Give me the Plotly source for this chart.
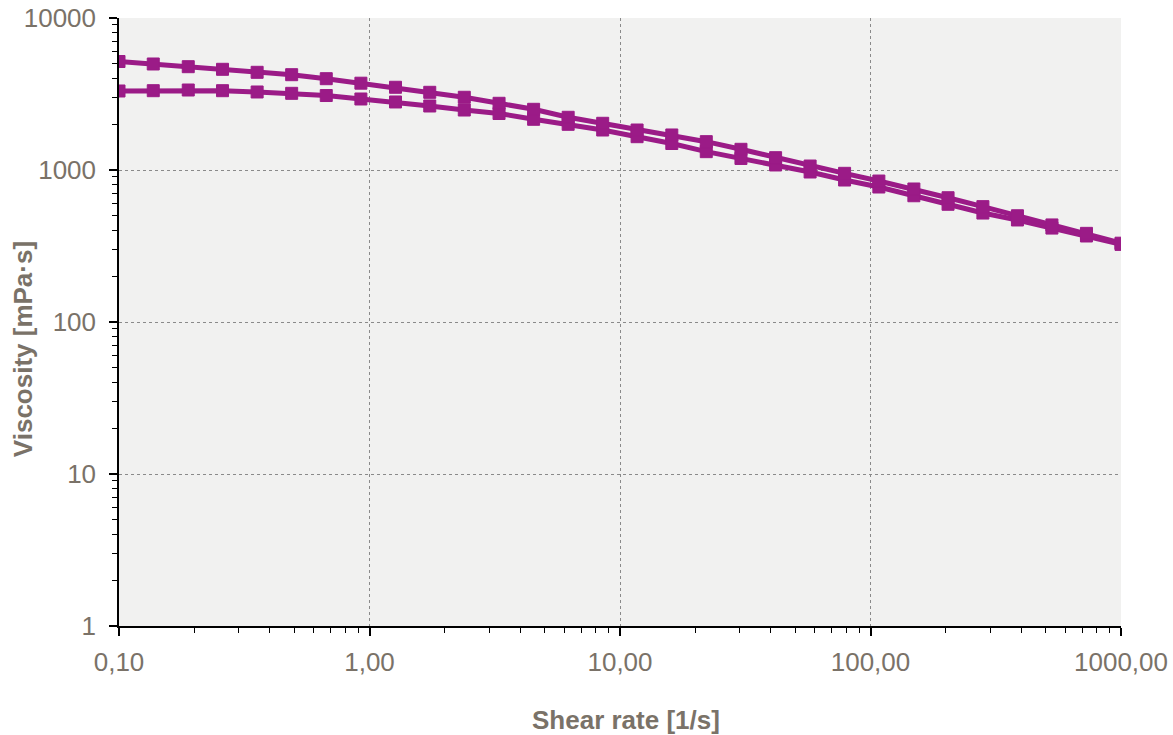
import plotly.graph_objects as go

shear_rate = [0.1, 0.137, 0.189, 0.259, 0.356, 0.489, 0.672, 0.924, 1.27, 1.74,
              2.39, 3.29, 4.52, 6.21, 8.53, 11.7, 16.1, 22.1, 30.4, 41.8,
              57.4, 78.8, 108, 149, 204, 281, 386, 530, 728, 1000]

viscosity_upper = [5173, 4982, 4782, 4597, 4393, 4237, 3988, 3725, 3501, 3245,
                   3009, 2747, 2508, 2222, 2029, 1833, 1700, 1536, 1368, 1205,
                   1062, 951, 846, 750, 657, 574, 500, 435, 383, 330]

viscosity_lower = [3310, 3325, 3360, 3325, 3260, 3195, 3090, 2932, 2802, 2637,
                   2481, 2353, 2156, 1998, 1833, 1656, 1494, 1320, 1191, 1079,
                   970, 859, 773, 677, 595, 521, 469, 415, 368, 324]

x_tick_vals = [0.1, 1, 10, 100, 1000]
x_tick_text = ["0,10", "1,00", "10,00", "100,00", "1000,00"]
y_tick_vals = [1, 10, 100, 1000, 10000]
y_tick_text = ["1", "10", "100", "1000", "10000"]

x_title = "Shear rate [1/s]"
y_title = "Viscosity [mPa·s]"

PURPLE = "#9b1b87"
TEXT = "#7a7268"
FONT = "Liberation Sans, Arial, sans-serif"

fig = go.Figure()
for ys in (viscosity_lower, viscosity_upper):
    fig.add_trace(go.Scatter(
        x=shear_rate, y=ys, mode="lines+markers",
        line=dict(color=PURPLE, width=5),
        marker=dict(symbol="square", size=12, color=PURPLE,
                    line=dict(color=PURPLE, width=1)),
        showlegend=False, hoverinfo="x+y",
    ))

minor_x = [m * 10 ** e for e in (-1, 0, 1, 2) for m in range(2, 10)]
minor_y = [m * 10 ** e for e in (0, 1, 2, 3) for m in range(2, 10)]

fig.update_layout(
    width=1173, height=735,
    margin=dict(l=119, r=52, t=18, b=109),
    paper_bgcolor="white", plot_bgcolor="#f1f1f0",
    font=dict(family=FONT, color=TEXT, size=26),
    xaxis=dict(
        type="log", range=[-1, 3], automargin=False,
        tickmode="array", tickvals=x_tick_vals, ticktext=x_tick_text,
        showgrid=True, gridcolor="#8a8a8a", griddash="dot", gridwidth=1,
        showline=True, linecolor="black", linewidth=1.5,
        ticks="outside", ticklen=8, tickwidth=1.5, tickcolor="black",
        ticklabelstandoff=4,
        minor=dict(tickmode="array", tickvals=minor_x, ticks="outside",
                   ticklen=5, tickwidth=1, tickcolor="black", showgrid=False),
        zeroline=False,
        tickfont=dict(size=26, color=TEXT, family=FONT),
    ),
    yaxis=dict(
        type="log", range=[0, 4], automargin=False,
        tickmode="array", tickvals=y_tick_vals, ticktext=y_tick_text,
        showgrid=True, gridcolor="#8a8a8a", griddash="dot", gridwidth=1,
        showline=True, linecolor="black", linewidth=1.5,
        ticks="outside", ticklen=8, tickwidth=1.5, tickcolor="black",
        ticklabelstandoff=8,
        minor=dict(tickmode="array", tickvals=minor_y, ticks="outside",
                   ticklen=5, tickwidth=1, tickcolor="black", showgrid=False),
        zeroline=False,
        tickfont=dict(size=26, color=TEXT, family=FONT),
    ),
    annotations=[
        dict(text="<b>" + x_title + "</b>", xref="paper", yref="paper",
             x=0.506, y=-0.155, xanchor="center", yanchor="middle",
             showarrow=False, font=dict(size=26, color=TEXT, family=FONT)),
        dict(text="<b>" + y_title + "</b>", xref="paper", yref="paper",
             x=-0.095, y=0.455, xanchor="center", yanchor="middle",
             textangle=-90, showarrow=False,
             font=dict(size=26, color=TEXT, family=FONT)),
    ],
)

fig.write_html("out.html")
